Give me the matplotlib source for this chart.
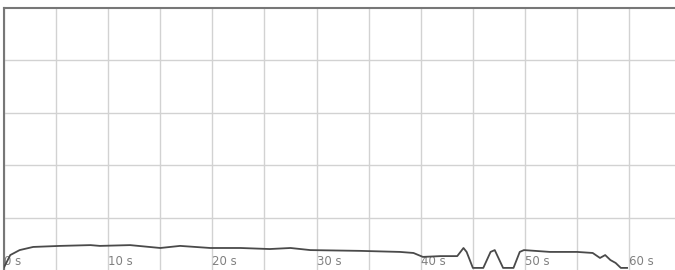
import matplotlib
matplotlib.use('Agg')
import matplotlib.pyplot as plt
import numpy as np

# time in seconds and level
t = [0.0, 0.6, 1.5, 2.8, 5.4, 8.3, 9.2, 12.1, 15.0, 16.9, 19.8, 22.7, 25.5, 27.5,
     29.4, 34.2, 38.0, 39.3, 40.2, 41.9, 43.5, 44.1, 44.4, 45.0, 46.0, 46.7, 47.1,
     47.9, 48.9, 49.5, 49.9, 52.4, 55.0, 56.5, 57.2, 57.7, 58.2, 58.7, 59.2, 59.8]
v = [1.0, 5.7, 7.6, 8.8, 9.2, 9.5, 9.2, 9.5, 8.4, 9.2, 8.4, 8.4, 8.0, 8.4,
     7.6, 7.3, 6.9, 6.5, 5.0, 5.3, 5.3, 8.4, 6.9, 0.8, 0.8, 6.9, 7.6,
     0.8, 0.8, 6.9, 7.6, 6.9, 6.9, 6.5, 4.6, 5.7, 3.8, 2.7, 0.8, 0.8]

tick_secs = [0, 10, 20, 30, 40, 50, 60]
tick_labels = [str(s) + ' s' for s in tick_secs]

fig = plt.figure(figsize=(6.75, 2.7), dpi=100)
ax = fig.add_axes([4 / 675, 0, 671 / 675, 262 / 270])

ax.plot(t, v, color='#4a4a4a', lw=1.3, zorder=3)

ax.set_xlim(0, 64.4)
ax.set_ylim(0, 100)

ax.set_xticks(tick_secs)
ax.set_xticklabels(tick_labels)
ax.set_xticks(np.arange(5, 65, 10), minor=True)
ax.set_yticks([20, 40, 60, 80])
ax.set_yticklabels([])

ax.grid(True, which='both', color='#d2d2d2', lw=1)
ax.tick_params(axis='both', which='both', length=0)
ax.tick_params(axis='x', pad=-11, labelcolor='#808080', labelsize=8.5)
for lab in ax.get_xticklabels():
    lab.set_horizontalalignment('left')
ax.set_axisbelow(True)

for side in ['right', 'bottom']:
    ax.spines[side].set_visible(False)
for side in ['left', 'top']:
    ax.spines[side].set_color('#777777')
    ax.spines[side].set_linewidth(1.5)

fig.savefig('out.png', dpi=100)
